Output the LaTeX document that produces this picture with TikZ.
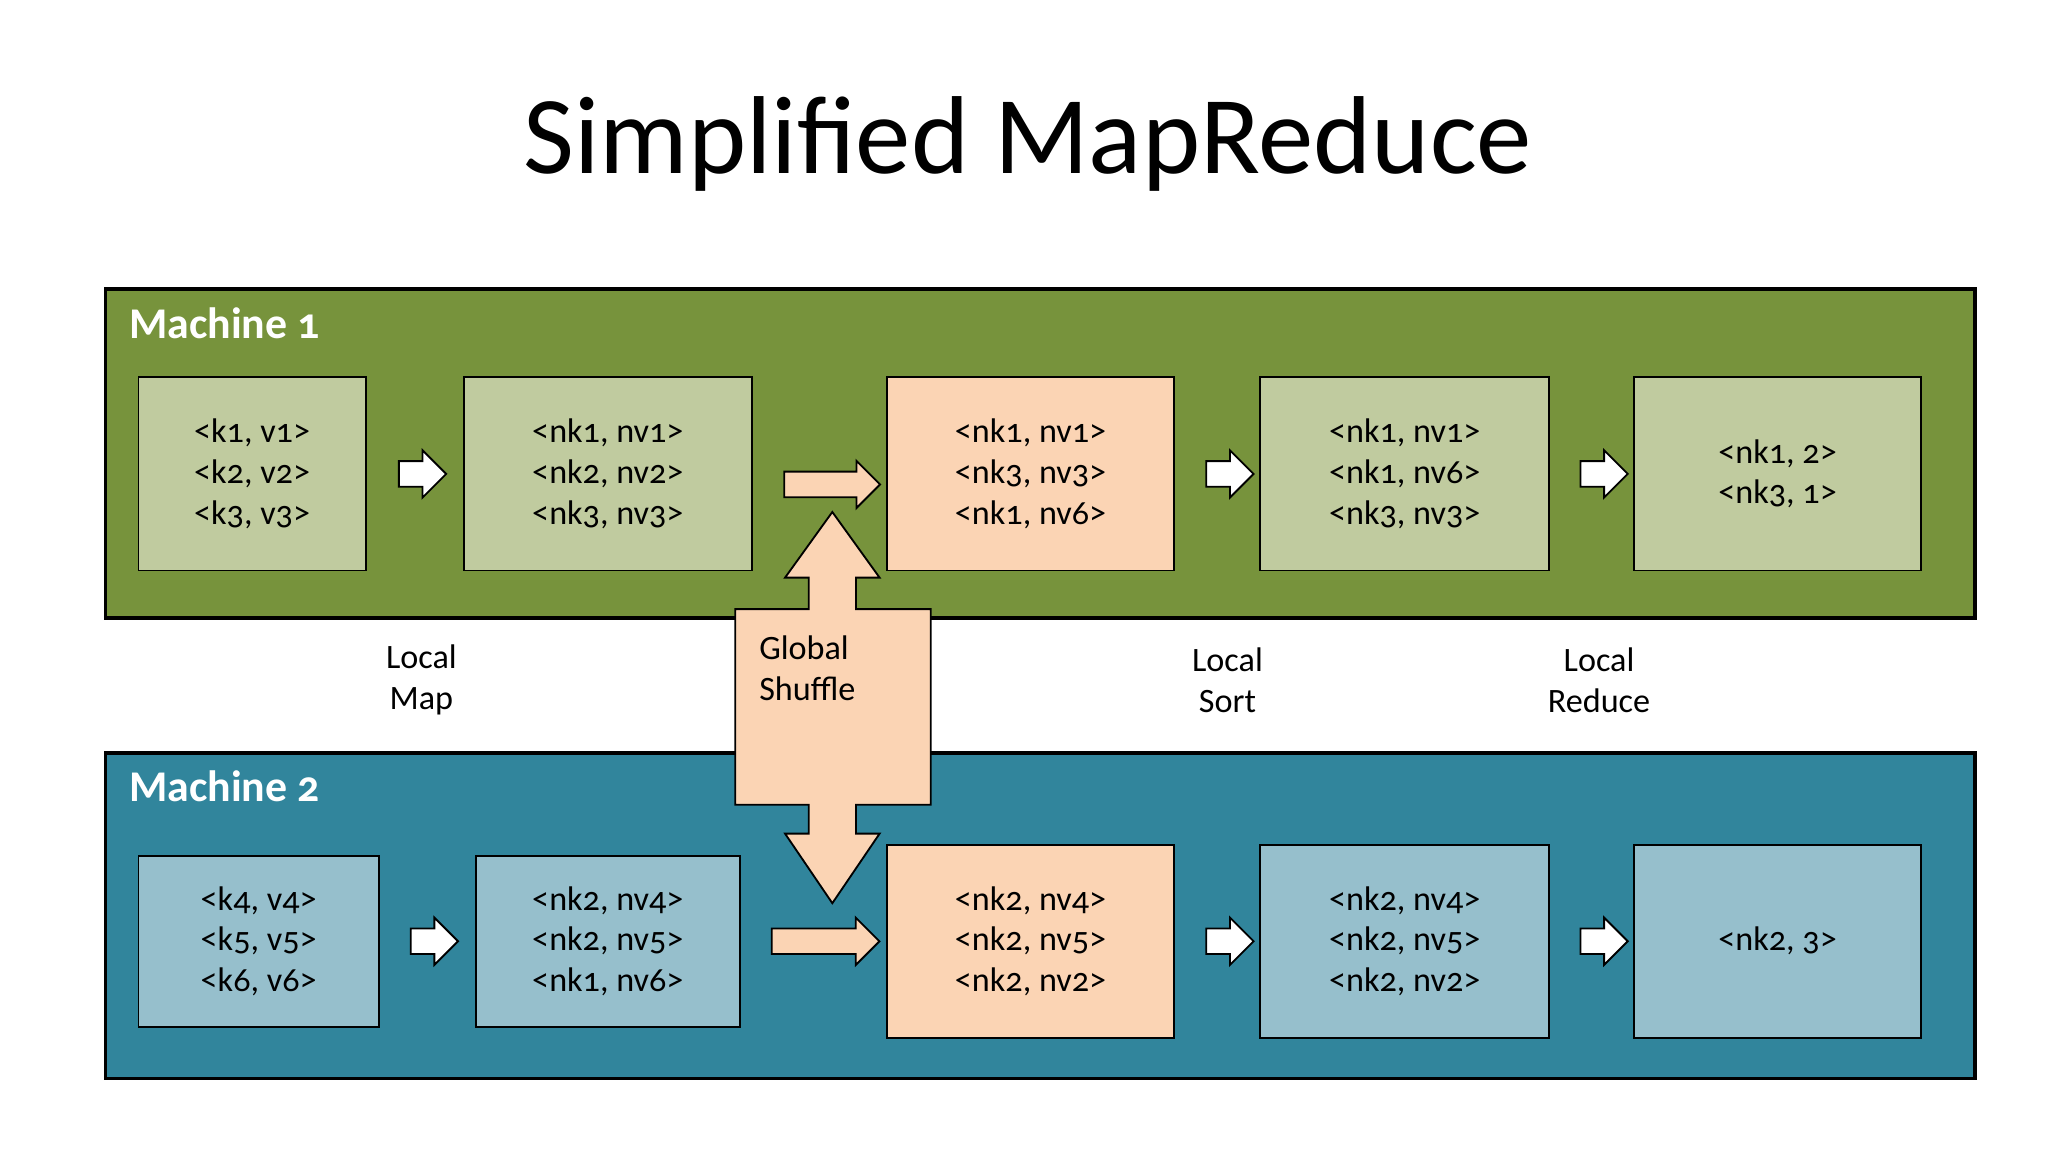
\documentclass[tikz,border=0pt]{standalone}
\usepackage{fontspec}
\setmainfont{Carlito}[Numbers=OldStyle]
\usepackage{tikz}
\usetikzlibrary{shapes.arrows, positioning}

\definecolor{olivegreen}{HTML}{77933C}
\definecolor{tealblue}{HTML}{31859C}
\definecolor{palegreen}{HTML}{C0CB9F}
\definecolor{paleblue}{HTML}{96BFCC}
\definecolor{peach}{HTML}{FBD4B4}

\begin{document}
\begin{tikzpicture}[
    x=0.01cm, y=-0.01cm,
    machine/.style={rectangle, draw, thick, anchor=north west, inner sep=0pt},
    box/.style={rectangle, draw, align=center, font=\fontsize{7.4}{8.8}\selectfont, inner sep=0pt},
    blockarrow/.style={single arrow, draw, fill=white, minimum height=0.36cm, minimum width=0.36cm,
        single arrow head extend=0.04cm, inner sep=0.04cm},
    label/.style={align=center, font=\fontsize{7.4}{8.8}\selectfont},
    title/.style={font=\color{white}\bfseries\fontsize{9.5}{11}\selectfont, anchor=north west}
]
\useasboundingbox (0,0) rectangle (1560,877);

\node[font=\fontsize{24}{28}\selectfont] (head) at (783,110) {Simplified MapReduce};

% Machines
\node[machine, fill=olivegreen, minimum width=14.23cm, minimum height=2.50cm] (m1) at (79,219) {};
\node[machine, fill=tealblue, minimum width=14.23cm, minimum height=2.48cm] (m2) at (79,572) {};
\node[title] at (86,222) {Machine 1};
\node[title] at (86,575) {Machine 2};

% Machine 1 boxes
\node[box, fill=palegreen, minimum width=1.73cm, minimum height=1.47cm] (a1) at (192,361) {<k1, v1>\\<k2, v2>\\<k3, v3>};
\node[box, fill=palegreen, minimum width=2.19cm, minimum height=1.47cm] (b1) at (463,361) {<nk1, nv1>\\<nk2, nv2>\\<nk3, nv3>};
\node[box, fill=peach, minimum width=2.19cm, minimum height=1.47cm] (c1) at (785,361) {<nk1, nv1>\\<nk3, nv3>\\<nk1, nv6>};
\node[box, fill=palegreen, minimum width=2.20cm, minimum height=1.47cm] (d1) at (1070,361) {<nk1, nv1>\\<nk1, nv6>\\<nk3, nv3>};
\node[box, fill=palegreen, minimum width=2.19cm, minimum height=1.47cm] (e1) at (1354,361) {<nk1, 2>\\<nk3, 1>};

% Machine 2 boxes
\node[box, fill=paleblue, minimum width=1.83cm, minimum height=1.30cm] (a2) at (197,717) {<k4, v4>\\<k5, v5>\\<k6, v6>};
\node[box, fill=paleblue, minimum width=2.01cm, minimum height=1.30cm] (b2) at (463,717) {<nk2, nv4>\\<nk2, nv5>\\<nk1, nv6>};
\node[box, fill=peach, minimum width=2.19cm, minimum height=1.47cm] (c2) at (785,717) {<nk2, nv4>\\<nk2, nv5>\\<nk2, nv2>};
\node[box, fill=paleblue, minimum width=2.20cm, minimum height=1.47cm] (d2) at (1070,717) {<nk2, nv4>\\<nk2, nv5>\\<nk2, nv2>};
\node[box, fill=paleblue, minimum width=2.19cm, minimum height=1.47cm] (e2) at (1354,717) {<nk2, 3>};

% Step arrows
\node[blockarrow] (s1) at (317,361) {};
\node[blockarrow] (s2) at (932,361) {};
\node[blockarrow] (s3) at (1217,361) {};
\node[blockarrow] (s4) at (326,717) {};
\node[blockarrow] (s5) at (932,717) {};
\node[blockarrow] (s6) at (1217,717) {};
\node[blockarrow, fill=peach, minimum height=0.73cm] (p1) at (629,369) {};
\node[blockarrow, fill=peach, minimum height=0.82cm] (p2) at (624,717) {};

% Global shuffle
\draw[fill=peach] (634,390) -- (670,440) -- (652,440) -- (652,464) -- (709,464) -- (709,613)
    -- (652,613) -- (652,635) -- (670,635) -- (634,688) -- (598,635) -- (616,635) -- (616,613)
    -- (560,613) -- (560,464) -- (616,464) -- (616,440) -- (598,440) -- cycle;
\node[label, align=left] (shuffle) at (615,509) {Global\\Shuffle};

% Stage labels
\node[label] (map) at (321,518) {Local\\Map};
\node[label] (sort) at (935,518) {Local\\Sort};
\node[label] (reduce) at (1218,518) {Local\\Reduce};

\end{tikzpicture}
\end{document}
